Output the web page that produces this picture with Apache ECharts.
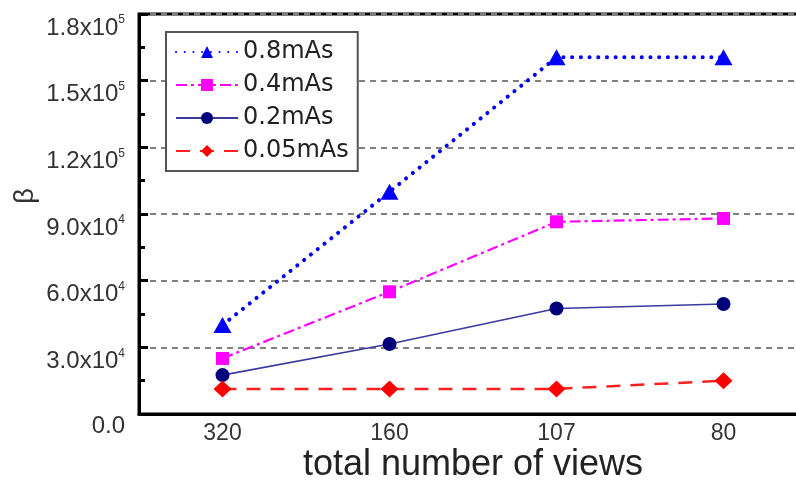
<!DOCTYPE html>
<html><head><meta charset="utf-8">
<script src="https://cdn.jsdelivr.net/npm/echarts@6/dist/echarts.min.js"></script>
<style>html,body{margin:0;padding:0;background:#fff}#c{width:796px;height:489px}</style>
</head><body><div id="c"></div>
<script>
const categories = ['320', '160', '107', '80'];
const s08 = [40000, 100000, 160500, 160500];
const s04 = [25000, 55000, 86500, 88000];
const s02 = [17500, 31500, 47500, 49500];
const s005 = [11300, 11300, 11300, 15000];
const seriesNames = ['0.8mAs', '0.4mAs', '0.2mAs', '0.05mAs'];

const font = 'Liberation Sans, Arial, sans-serif';
const chart = echarts.init(document.getElementById('c'));
chart.setOption({
  animation: false,
  grid: {left: 139, top: 14, width: 668, height: 400, outerBoundsMode: 'none', containLabel: false,
         show: true, borderColor: '#000', borderWidth: 3, backgroundColor: 'transparent'},
  legend: {
    left: 166, top: 32, orient: 'vertical', itemWidth: 62, itemHeight: 15, itemGap: 9,
    padding: [8, 9, 8, 9], borderColor: '#555', borderWidth: 2, backgroundColor: '#fff',
    textStyle: {fontFamily: 'DejaVu Sans, sans-serif', fontSize: 24, lineHeight: 23, color: '#222'},
    data: seriesNames
  },
  xAxis: {
    type: 'category', data: categories,
    name: 'total number of views', nameLocation: 'middle', nameGap: 33, nameMoveOverlap: false,
    nameTextStyle: {fontFamily: font, fontSize: 36, color: '#222'},
    axisLine: {lineStyle: {color: '#000', width: 3}},
    axisTick: {inside: true, alignWithLabel: true, length: 7, lineStyle: {color: '#000', width: 2}},
    axisLabel: {fontFamily: font, fontSize: 23, color: '#333', margin: 8}
  },
  yAxis: {
    type: 'value', min: 0, max: 180000, interval: 30000,
    name: 'β', nameLocation: 'middle', nameGap: 100, nameRotate: 90, nameMoveOverlap: false,
    nameTextStyle: {fontFamily: font, fontSize: 27, color: '#333', padding: [0, 0, 0, 36]},
    axisLine: {show: true, lineStyle: {color: '#000', width: 3}},
    axisTick: {show: true, inside: true, length: 9, lineStyle: {color: '#000', width: 3}},
    minorTick: {show: true, splitNumber: 2, length: 6, lineStyle: {color: '#000', width: 3}},
    splitLine: {show: true, lineStyle: {color: '#808080', width: 2, type: [6, 5]}},
    axisLabel: {
      margin: 14,
      verticalAlign: 'top',
      formatter: function (v) {
        if (v === 0) return '{a|0.0}';
        const e = v >= 100000 ? 5 : 4;
        return '{a|' + (v / Math.pow(10, e)).toFixed(1) + 'x10}{b|' + e + '}';
      },
      rich: {
        a: {fontFamily: font, fontSize: 24, color: '#333', verticalAlign: 'bottom'},
        b: {fontFamily: font, fontSize: 12, color: '#333', verticalAlign: 'top', padding: [0, 0, 14, 0]}
      }
    }
  },
  series: [
    {name: seriesNames[0], type: 'line', data: s08, symbol: 'triangle', symbolSize: [18, 16],
     itemStyle: {color: '#0000ff'}, lineStyle: {color: '#0000ff', width: 4, type: [0.1, 8.6], cap: 'round'}},
    {name: seriesNames[1], type: 'line', data: s04, symbol: 'rect', symbolSize: 13,
     itemStyle: {color: '#ff00ff'}, lineStyle: {color: '#ff00ff', width: 2.2, type: [11, 4, 3, 4]}},
    {name: seriesNames[2], type: 'line', data: s02, symbol: 'circle', symbolSize: 14,
     itemStyle: {color: '#00007a'}, lineStyle: {color: '#3a3aa0', width: 1.6}},
    {name: seriesNames[3], type: 'line', data: s005, symbol: 'diamond', symbolSize: [18, 17],
     itemStyle: {color: '#ff0000'}, lineStyle: {color: '#ff2020', width: 2.5, type: [14, 10]}}
  ]
});
</script></body></html>
